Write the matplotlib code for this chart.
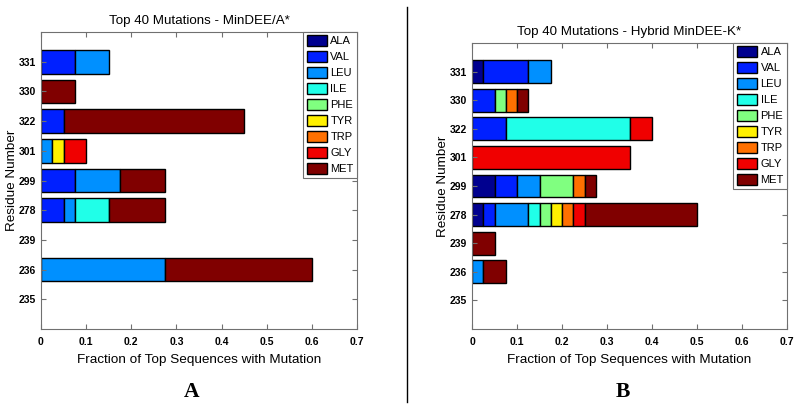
import numpy as np
import matplotlib
matplotlib.use("Agg")
import matplotlib.pyplot as plt
from matplotlib.patches import Patch
from matplotlib.lines import Line2D

plt.rcParams['font.family'] = ['Liberation Sans', 'DejaVu Sans']

# Residues (bottom to top) and amino acids
residues = [235, 236, 239, 278, 299, 301, 322, 330, 331]
aminoacids = ["ALA", "VAL", "LEU", "ILE", "PHE", "TYR", "TRP", "GLY", "MET"]
colores = ["#00008f", "#0020ff", "#0090ff", "#20ffe8", "#80ff80",
           "#fff000", "#ff7000", "#f00000", "#800000"]

# Fractions per amino acid, one value per residue (MinDEE/A*)
mindee = [
    [0, 0, 0, 0, 0, 0, 0, 0, 0],                         # ALA
    [0, 0, 0, 0.05, 0.075, 0, 0.05, 0, 0.075],           # VAL
    [0, 0.275, 0, 0.025, 0.1, 0.025, 0, 0, 0.075],       # LEU
    [0, 0, 0, 0.075, 0, 0, 0, 0, 0],                     # ILE
    [0, 0, 0, 0, 0, 0, 0, 0, 0],                         # PHE
    [0, 0, 0, 0, 0, 0.025, 0, 0, 0],                     # TYR
    [0, 0, 0, 0, 0, 0, 0, 0, 0],                         # TRP
    [0, 0, 0, 0, 0, 0.05, 0, 0, 0],                      # GLY
    [0, 0.325, 0, 0.125, 0.1, 0, 0.4, 0.075, 0],         # MET
]

# Hybrid MinDEE-K*
hybrid = [
    [0, 0, 0, 0.025, 0.05, 0, 0, 0, 0.025],              # ALA
    [0, 0, 0, 0.025, 0.05, 0, 0.075, 0.05, 0.1],         # VAL
    [0, 0.025, 0, 0.075, 0.05, 0, 0, 0, 0.05],           # LEU
    [0, 0, 0, 0.025, 0, 0, 0.275, 0, 0],                 # ILE
    [0, 0, 0, 0.025, 0.075, 0, 0, 0.025, 0],             # PHE
    [0, 0, 0, 0.025, 0, 0, 0, 0, 0],                     # TYR
    [0, 0, 0, 0.025, 0.025, 0, 0, 0.025, 0],             # TRP
    [0, 0, 0, 0.025, 0, 0.35, 0.05, 0, 0],               # GLY
    [0, 0.05, 0.05, 0.25, 0.025, 0, 0, 0.025, 0],        # MET
]

titulos = ["Top 40 Mutations - MinDEE/A*", "Top 40 Mutations - Hybrid MinDEE-K*"]
letras = ["A", "B"]
letras_x = [192 / 800, 623 / 800]

fig = plt.figure(figsize=(8, 4.11), dpi=100)
posiciones = [[0.05125, 0.1995, 0.395, 0.7226], [0.59, 0.1995, 0.394, 0.696]]
gris = "#707070"

for k, datos in enumerate([mindee, hybrid]):
    ax = fig.add_axes(posiciones[k])
    y = np.arange(1, len(residues) + 1)
    izq = np.zeros(len(residues))
    for j, fila in enumerate(datos):
        fila = np.array(fila, dtype=float)
        m = fila > 0
        ax.barh(y[m], fila[m], left=izq[m], height=0.8, color=colores[j],
                edgecolor="black", linewidth=1.0)
        izq += fila
    ax.set_xlim(0, 0.7)
    ax.set_ylim(0, len(residues) + 1)
    ax.set_yticks(y)
    ax.set_yticklabels([str(r) for r in residues])
    ax.set_xticks(np.arange(0, 0.71, 0.1))
    ax.set_xticklabels(["0", "0.1", "0.2", "0.3", "0.4", "0.5", "0.6", "0.7"])
    ax.tick_params(direction="in", top=True, right=True, length=3.5, color=gris,
                   labelsize=7.5)
    ax.tick_params(axis="x", pad=6)
    for lab in ax.get_xticklabels() + ax.get_yticklabels():
        lab.set_fontweight("bold")
    for s in ax.spines.values():
        s.set_color(gris)
    ax.set_title(titulos[k], fontsize=9.6, pad=6)
    ax.set_xlabel("Fraction of Top Sequences with Mutation", fontsize=9.7, labelpad=5)
    ax.set_ylabel("Residue Number", fontsize=9.7, labelpad=0.5)
    handles = [Patch(facecolor=c, edgecolor="black", linewidth=1.0) for c in colores]
    leg = ax.legend(handles, aminoacids, loc="upper right", fontsize=8,
                    borderaxespad=0, handlelength=1.85, handleheight=1.1,
                    labelspacing=0.44, handletextpad=0.3, borderpad=0.3,
                    fancybox=False, framealpha=1)
    leg.get_frame().set_edgecolor(gris)
    leg.get_frame().set_linewidth(0.8)
    fig.text(letras_x[k], 1 - 392 / 411, letras[k], ha="center", va="center",
             fontsize=15.5, fontweight="bold", family="Liberation Serif")

# Línea separadora
fig.add_artist(Line2D([407 / 800, 407 / 800], [1 - 402 / 411, 1 - 7 / 411],
                      color="black", linewidth=1.0))

fig.savefig("out.png", dpi=100)
